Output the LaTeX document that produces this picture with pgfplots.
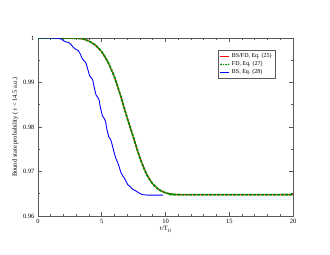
\documentclass[border=0pt]{standalone}
\usepackage{fontspec}
\setmainfont{Liberation Serif}
\usepackage{pgfplots}
\pgfplotsset{compat=1.18}
\definecolor{dgreen}{RGB}{0,140,0}
\begin{document}
\begin{tikzpicture}
\path (0,0) rectangle (330bp,255bp);
\begin{axis}[
  at={(38bp,39bp)}, anchor=south west,
  scale only axis, width=255bp, height=178bp,
  xmin=0, xmax=20, ymin=0.96, ymax=1,
  xtick={0,5,10,15,20}, minor x tick num=4,
  ytick={0.96,0.97,0.98,0.99,1}, minor y tick num=1,
  yticklabels={0.96,0.97,0.98,0.99,1},
  tick align=inside, ticks=both,
  xtick pos=both, ytick pos=both,
  xticklabel pos=bottom, yticklabel pos=left,
  major tick length=4bp, minor tick length=2bp,
  axis line style={black!65, line width=0.9pt},
  every tick/.style={black!65, line width=0.7pt},
  tick label style={font=\fontsize{6.5}{7}\selectfont},
  /pgf/number format/assume math mode=true,
  xlabel={$t$/T$_0$}, ylabel={Bound state probability ( r < 14.5 a.u.)},
  label style={font=\fontsize{6.5}{7}\selectfont},
  xlabel style={yshift=4bp},
  ylabel style={yshift=-2bp},
  legend style={at={(0.93,0.933)}, anchor=north east, draw=black!65, line width=0.6pt,
    font=\fontsize{6}{7}\selectfont, inner sep=1.2pt, row sep=-1.5pt},
  legend cell align=left,
  legend image code/.code={\draw[#1] (0cm,0cm) -- (0.32cm,0cm);},
]
\addplot[red, line width=1pt] coordinates {
(0,1) (2,1) (3,0.99995) (3.5,0.9998) (4,0.9993) (4.5,0.9984) (5,0.9969) (5.5,0.9945) (6,0.9912) (6.5,0.9868) (7,0.9820) (7.5,0.9775) (8,0.9730) (8.5,0.9695) (9,0.9672) (9.5,0.9659) (10,0.9652) (10.5,0.9649) (11,0.9648) (20,0.9648)};
\addlegendentry{BS/FD, Eq. (25)}
\addplot[dgreen, line width=1.8pt, dash pattern=on 3pt off 1pt, smooth, forget plot] coordinates {
(0,1) (2,1) (3,0.99995) (3.5,0.9998) (4,0.9993) (4.5,0.9984) (5,0.9969) (5.5,0.9945) (6,0.9912) (6.5,0.9868) (7,0.9820) (7.5,0.9775) (8,0.9730) (8.5,0.9695) (9,0.9672) (9.5,0.9659) (10,0.9652) (10.5,0.9649) (11,0.9648) (20,0.9648)};
\addlegendimage{legend image code/.code={\draw[dgreen, line width=0.6pt, dash pattern=on 1.5pt off 1pt] (0cm,0cm) -- (0.32cm,0cm); \draw[dgreen, line width=0.4pt] (0.03cm,0cm) circle (0.7pt) (0.29cm,0cm) circle (0.7pt);}}
\addlegendentry{FD, Eq. (27)}
\addplot[blue, line width=0.9pt, forget plot] coordinates {
(0,1)(1.0,1)(1.5,0.99995)(1.8,0.9998)(2.0,0.9994)(2.2,0.9991)(2.4,0.9990)(2.6,0.9985)(2.8,0.9978)(3.0,0.9974)(3.15,0.9972)(3.3,0.9965)(3.45,0.9955)(3.6,0.9949)(3.75,0.9945)(3.9,0.9930)(4.05,0.9915)(4.2,0.9910)(4.3,0.9905)(4.4,0.9890)(4.55,0.9872)(4.7,0.9866)(4.8,0.9860)(4.9,0.9843)(5.05,0.9825)(5.2,0.9819)(5.3,0.9812)(5.4,0.9795)(5.55,0.9778)(5.7,0.9772)(5.8,0.9762)(5.95,0.9745)(6.1,0.9730)(6.25,0.9720)(6.35,0.9712)(6.5,0.9698)(6.65,0.9690)(6.8,0.9684)(6.9,0.9678)(7.05,0.9670)(7.2,0.9667)(7.35,0.9662)(7.5,0.9659)(7.7,0.9656)(7.9,0.9652)(8.2,0.9648)(8.6,0.9647)(9.8,0.9647)};
\addlegendimage{blue, line width=0.9pt}
\addlegendentry{BS, Eq. (28)}
\end{axis}
\end{tikzpicture}
\end{document}
